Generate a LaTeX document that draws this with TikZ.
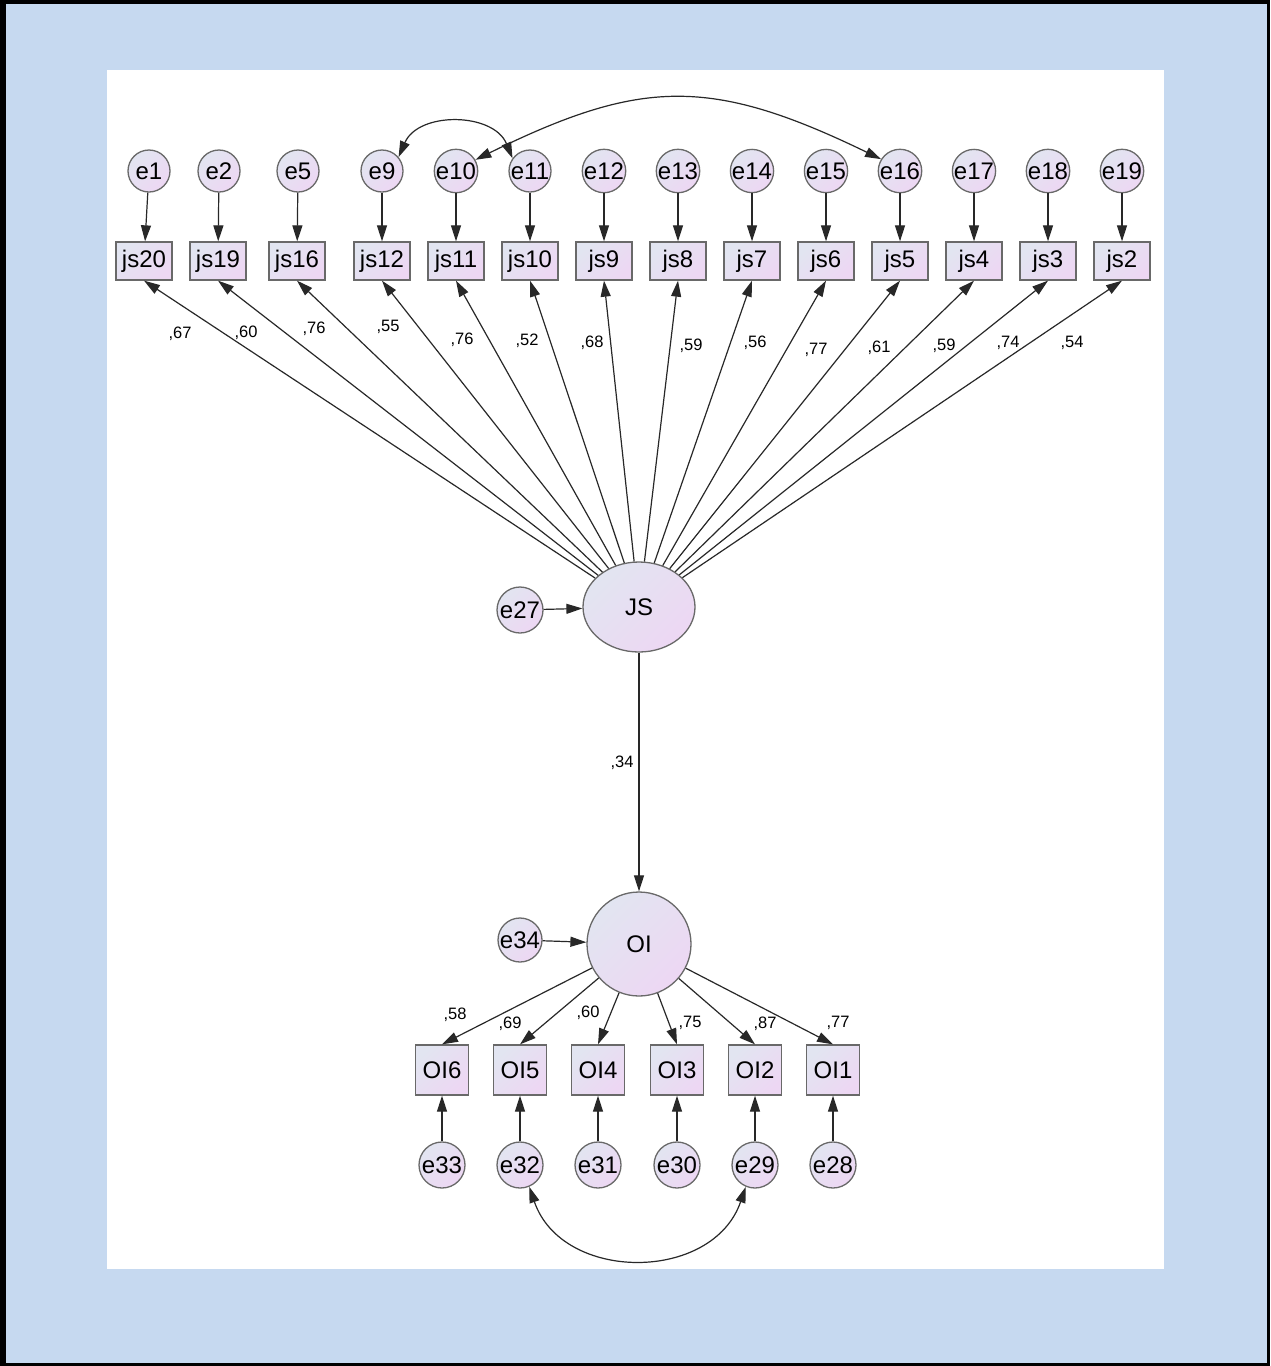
\documentclass[tikz,border=0pt]{standalone}
\usepackage{fontspec}
\setmainfont{Liberation Sans}
\usetikzlibrary{arrows.meta,shapes.geometric}
\definecolor{frameblue}{RGB}{198,217,240}
\definecolor{fillA}{RGB}{226,229,241}
\definecolor{fillB}{RGB}{237,215,243}
\definecolor{edgegray}{RGB}{105,105,105}
\definecolor{wire}{RGB}{40,40,40}
\begin{document}
\begin{tikzpicture}[x=1pt,y=-1pt,
  shadefill/.style={top color=fillA,bottom color=fillB,shading angle=45,
    draw=edgegray,line width=1.3pt,text=black},
  lbl/.style={font=\fontsize{24}{24}\selectfont},
  err/.style={shadefill,lbl,circle,minimum size=42pt,inner sep=0pt},
  errb/.style={err,minimum size=46pt},
  obs/.style={shadefill,lbl,rectangle,minimum width=56pt,minimum height=38pt,inner sep=0pt},
  obsb/.style={obs,minimum width=53pt,minimum height=50pt},
  latent/.style={shadefill,lbl,ellipse,inner sep=0pt},
  tip/.tip={Triangle[length=16pt,width=10pt]},
  link/.style={draw=wire,line width=1.2pt,-tip},
  cov/.style={draw=wire,line width=1.2pt,tip-tip},
  coef/.style={font=\fontsize{16.5}{16.5}\selectfont,inner sep=0pt,text=black}
]
\useasboundingbox (0,0) rectangle (1270,1366);
% frame, panel and drawing area
\fill[black] (0,0) rectangle (1270,1366);
\fill[frameblue] (6,4) rectangle (1267,1363);
\fill[white] (107,70) rectangle (1164,1269);

% latent variables
\node[latent,minimum width=112pt,minimum height=90pt] (JS) at (639,607) {JS};
\node[latent,minimum width=104pt,minimum height=104pt] (OI) at (639,944) {OI};
\node[errb] (e27) at (520,610) {e27};
\node[errb,minimum size=44pt] (e34) at (520,940) {e34};

% job satisfaction indicators with their errors and loadings
\foreach \e/\j/\x/\bx/\lx/\ly/\v in {
  1/20/149/144/180/334/67,
  2/19/219/218/246/333/60,
  5/16/298/297/314/329/76,
  9/12/382/382/388/327/55,
  10/11/456/456/462/340/76,
  11/10/530/530/527/341/52,
  12/9/604/604/592/343/68,
  13/8/678/678/691/346/59,
  14/7/752/752/755/343/56,
  15/6/826/826/816/350/77,
  16/5/900/900/879/348/61,
  17/4/974/974/944/346/59,
  18/3/1048/1048/1008/343/74,
  19/2/1122/1122/1072/343/54}{
  \node[err] (e\e) at (\x,171) {e\e};
  \node[obs] (js\j) at (\bx,261) {js\j};
  \draw[link] (e\e) -- (js\j);
  \draw[link] (JS) -- (js\j.south);
  \node[coef] (c\j) at (\lx,\ly) {,\v};
}

% organisational identification indicators
\foreach \k/\m/\x/\lx/\ly/\v in {
  6/33/442/455/1015/58,
  5/32/520/510/1024/69,
  4/31/598/588/1013/60,
  3/30/677/690/1023/75,
  2/29/755/765/1024/87,
  1/28/833/838/1023/77}{
  \node[obsb] (OI\k) at (\x,1070) {OI\k};
  \node[errb] (e\m) at (\x,1165) {e\m};
  \draw[link] (OI) -- (OI\k.north);
  \draw[link] (e\m) -- (OI\k);
  \node[coef] (d\k) at (\lx,\ly) {,\v};
}

% structural path and disturbances
\draw[link] (JS) -- (OI);
\node[coef] (cJS) at (622,763) {,34};
\draw[link] (e27) -- (JS);
\draw[link] (e34) -- (OI);

% error covariances
\draw[cov] (e9.40) .. controls +(20,-46) and +(-19,-46) .. (e11.144);
\draw[cov] (e10.30) .. controls +(165,-81) and +(-171,-83) .. (e16.148);
\draw[cov] (e32.-67) .. controls +(33,96) and +(-33,96) .. (e29.-113);
\end{tikzpicture}
\end{document}
